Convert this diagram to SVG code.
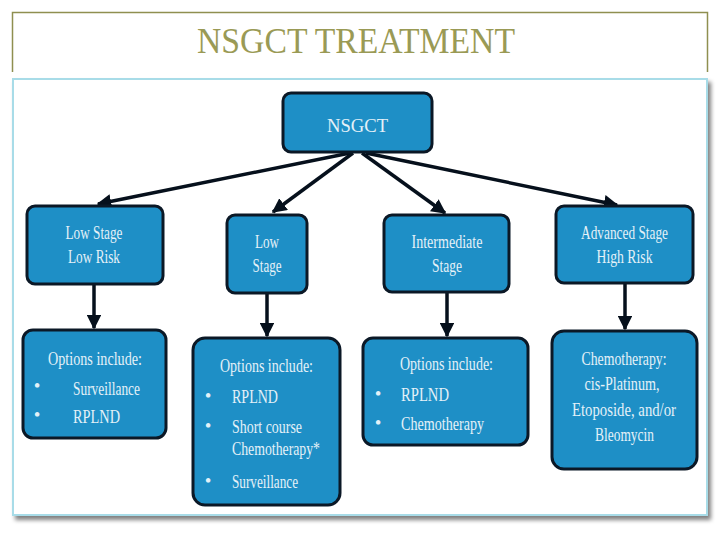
<svg xmlns="http://www.w3.org/2000/svg" width="720" height="540" viewBox="0 0 720 540">
<defs>
<style>
.box{fill:#1e8fc6;stroke:#0b1826;stroke-width:3}
.t{font-family:"Liberation Serif",serif;fill:#e4f1f8;font-size:19px}
.c{text-anchor:middle}
.b{font-size:19px}
.conn{stroke:#06101c;stroke-width:3.5;fill:none}
</style>
<marker id="ah" viewBox="0 0 10 10" refX="9" refY="5" markerWidth="4.2" markerHeight="4.2" markerUnits="strokeWidth" orient="auto">
<path d="M0,0 L10,5 L0,10 z" fill="#06101c"/>
</marker>
<filter id="sh" x="-5%" y="-5%" width="110%" height="110%">
<feGaussianBlur in="SourceAlpha" stdDeviation="2"/>
<feOffset dx="3" dy="4"/>
<feComponentTransfer><feFuncA type="linear" slope="0.5"/></feComponentTransfer>
<feMerge><feMergeNode/><feMergeNode in="SourceGraphic"/></feMerge>
</filter>
</defs>
<rect width="720" height="540" fill="#ffffff"/>
<g id="title">
<path d="M12.5,72 V12.5 H707.5 V72" fill="none" stroke="#8f8f50" stroke-width="1.5"/>
<text x="356" y="53" font-family="Liberation Serif,serif" font-size="35" fill="#9a9a55" text-anchor="middle" textLength="318" lengthAdjust="spacingAndGlyphs">NSGCT TREATMENT</text>
</g>
<rect x="13" y="79" width="694" height="436" fill="#ffffff" stroke="#a8dce8" stroke-width="2" filter="url(#sh)"/>
<g id="connectors">
<line class="conn" x1="350" y1="153" x2="98" y2="204" marker-end="url(#ah)"/>
<line class="conn" x1="353" y1="153" x2="273" y2="212" marker-end="url(#ah)"/>
<line class="conn" x1="362" y1="153" x2="445" y2="213" marker-end="url(#ah)"/>
<line class="conn" x1="366" y1="153" x2="617" y2="205" marker-end="url(#ah)"/>
<line class="conn" x1="94" y1="285" x2="94" y2="328" marker-end="url(#ah)"/>
<line class="conn" x1="267" y1="294" x2="267" y2="336" marker-end="url(#ah)"/>
<line class="conn" x1="447" y1="293" x2="447" y2="336" marker-end="url(#ah)"/>
<line class="conn" x1="625" y1="284" x2="625" y2="329" marker-end="url(#ah)"/>
</g>
<g id="nsgct">
<rect class="box" x="283" y="93" width="149" height="59" rx="8"/>
<text class="t c" x="357.5" y="132" font-size="30" textLength="61" lengthAdjust="spacingAndGlyphs">NSGCT</text>
</g>
<g id="low-stage-low-risk">
<rect class="box" x="27" y="206" width="136" height="78" rx="8"/>
<text class="t c" x="94" y="239" textLength="57" lengthAdjust="spacingAndGlyphs">Low Stage</text>
<text class="t c" x="94" y="263" textLength="52" lengthAdjust="spacingAndGlyphs">Low Risk</text>
</g>
<g id="low-stage">
<rect class="box" x="227" y="215" width="80" height="78" rx="8"/>
<text class="t c" x="267" y="248" textLength="24" lengthAdjust="spacingAndGlyphs">Low</text>
<text class="t c" x="267" y="272" textLength="29" lengthAdjust="spacingAndGlyphs">Stage</text>
</g>
<g id="intermediate-stage">
<rect class="box" x="384" y="215" width="125" height="77" rx="8"/>
<text class="t c" x="447" y="248" textLength="71" lengthAdjust="spacingAndGlyphs">Intermediate</text>
<text class="t c" x="447" y="272" textLength="30" lengthAdjust="spacingAndGlyphs">Stage</text>
</g>
<g id="advanced-stage">
<rect class="box" x="556" y="206" width="137" height="77" rx="8"/>
<text class="t c" x="624.5" y="239" textLength="87" lengthAdjust="spacingAndGlyphs">Advanced Stage</text>
<text class="t c" x="624.5" y="263" textLength="56" lengthAdjust="spacingAndGlyphs">High Risk</text>
</g>
<g id="options-low-risk">
<rect class="box" x="23" y="330" width="143" height="108" rx="10"/>
<text class="t c" x="95" y="365" textLength="94" lengthAdjust="spacingAndGlyphs">Options include:</text>
<text class="t c b" x="37" y="392">•</text>
<text class="t" x="73" y="395" textLength="67" lengthAdjust="spacingAndGlyphs">Surveillance</text>
<text class="t c b" x="37" y="421">•</text>
<text class="t" x="73" y="423" textLength="47" lengthAdjust="spacingAndGlyphs">RPLND</text>
</g>
<g id="options-low-stage">
<rect class="box" x="193" y="338" width="147" height="167" rx="12"/>
<text class="t c" x="266.5" y="372" textLength="93" lengthAdjust="spacingAndGlyphs">Options include:</text>
<text class="t c b" x="208" y="402">•</text>
<text class="t" x="232" y="403" textLength="46" lengthAdjust="spacingAndGlyphs">RPLND</text>
<text class="t c b" x="208" y="432">•</text>
<text class="t" x="232" y="433" textLength="70" lengthAdjust="spacingAndGlyphs">Short course</text>
<text class="t" x="232" y="455" textLength="88" lengthAdjust="spacingAndGlyphs">Chemotherapy*</text>
<text class="t c b" x="208" y="487">•</text>
<text class="t" x="232" y="488" textLength="66" lengthAdjust="spacingAndGlyphs">Surveillance</text>
</g>
<g id="options-intermediate">
<rect class="box" x="363" y="338" width="165" height="107" rx="10"/>
<text class="t c" x="446.5" y="370" textLength="93" lengthAdjust="spacingAndGlyphs">Options include:</text>
<text class="t c b" x="378" y="400">•</text>
<text class="t" x="401" y="401" textLength="48" lengthAdjust="spacingAndGlyphs">RPLND</text>
<text class="t c b" x="378" y="429">•</text>
<text class="t" x="401" y="430" textLength="83" lengthAdjust="spacingAndGlyphs">Chemotherapy</text>
</g>
<g id="chemotherapy">
<rect class="box" x="552" y="331" width="145" height="138" rx="12"/>
<text class="t c" x="624" y="365" textLength="85" lengthAdjust="spacingAndGlyphs">Chemotherapy:</text>
<text class="t c" x="622" y="390" textLength="75" lengthAdjust="spacingAndGlyphs">cis-Platinum,</text>
<text class="t c" x="624" y="416" textLength="104" lengthAdjust="spacingAndGlyphs">Etoposide, and/or</text>
<text class="t c" x="624.5" y="441" textLength="59" lengthAdjust="spacingAndGlyphs">Bleomycin</text>
</g>
</svg>
